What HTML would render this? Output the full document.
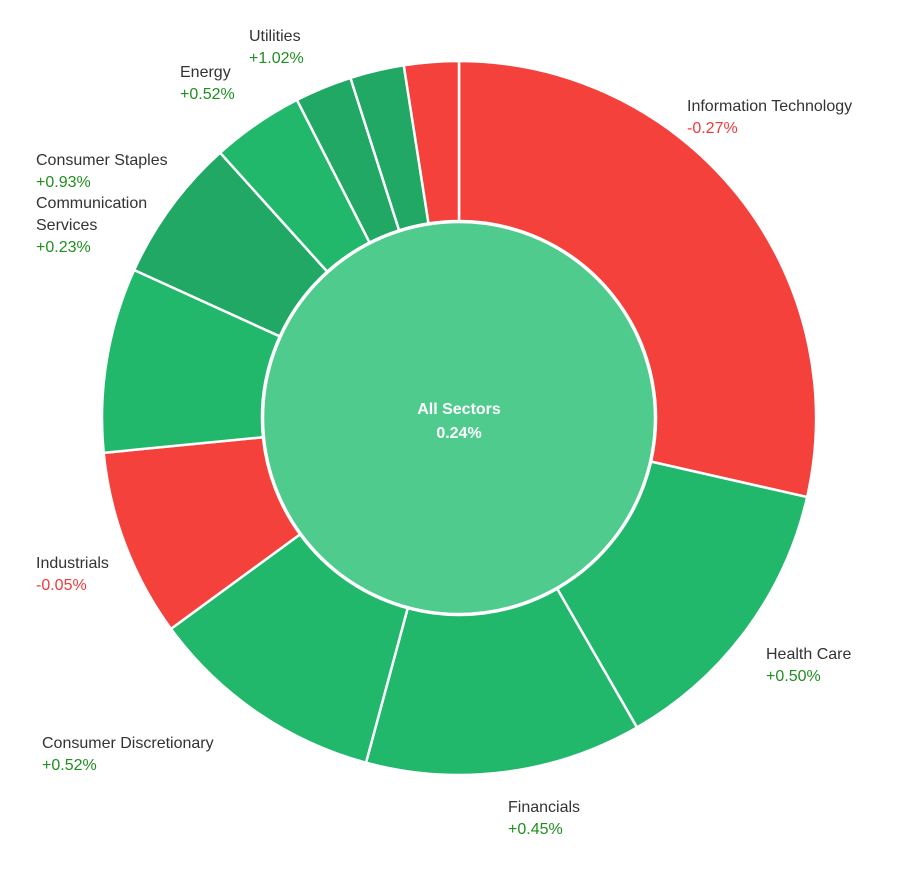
<!DOCTYPE html>
<html><head><meta charset="utf-8">
<style>
body{margin:0;background:#fff;width:903px;height:870px;overflow:hidden;font-family:"Liberation Sans",Arial,sans-serif;}
svg{position:absolute;left:0;top:0}
.lbl{position:absolute;font-size:16px;color:#333;line-height:22px;white-space:nowrap}
.pos{color:#1f8f1f}.neg{color:#f03a3a}
</style></head><body>
<svg id="chart" width="903" height="870"></svg>
<div class="lbl" style="left:687px;top:96px">Information Technology<br><span class="neg">-0.27%</span></div>
<div class="lbl" style="left:766px;top:644px">Health Care<br><span class="pos">+0.50%</span></div>
<div class="lbl" style="left:508px;top:797px">Financials<br><span class="pos">+0.45%</span></div>
<div class="lbl" style="left:42px;top:733px">Consumer Discretionary<br><span class="pos">+0.52%</span></div>
<div class="lbl" style="left:36px;top:553px">Industrials<br><span class="neg">-0.05%</span></div>
<div class="lbl" style="left:36px;top:193px">Communication<br>Services<br><span class="pos">+0.23%</span></div>
<div class="lbl" style="left:36px;top:150px">Consumer Staples<br><span class="pos">+0.93%</span></div>
<div class="lbl" style="left:180px;top:62px">Energy<br><span class="pos">+0.52%</span></div>
<div class="lbl" style="left:249px;top:26px">Utilities<br><span class="pos">+1.02%</span></div>
<script>
const sectors=["Information Technology","Health Care","Financials","Consumer Discretionary","Industrials","Communication Services","Consumer Staples","Energy","Utilities","Real Estate","Materials"];
const weights=[102.8,47.3,45,38.7,30.6,30.1,23.5,15,9.3,8.8,8.9];
const changes=[-0.27,0.50,0.45,0.52,-0.05,0.23,0.93,0.52,1.02,0.30,-0.10];
const shades=[0,0,0,0,0,0,1,0,1,1,0];
const total="0.24%";
const svg=document.getElementById('chart');
const NS="http://www.w3.org/2000/svg";
const cx=459,cy=418,R=357,r0=197;
const sum=weights.reduce((a,b)=>a+b,0);
function pt(rad,a){return [cx+rad*Math.sin(a),cy-rad*Math.cos(a)];}
let acc=0;
weights.forEach((w,i)=>{
  const a0=acc/sum*2*Math.PI;acc+=w;const a1=acc/sum*2*Math.PI;
  const [x0,y0]=pt(R,a0),[x1,y1]=pt(R,a1),[x2,y2]=pt(r0,a1),[x3,y3]=pt(r0,a0);
  const lg=(a1-a0)>Math.PI?1:0;
  const p=document.createElementNS(NS,'path');
  p.setAttribute('d',`M${x0},${y0}A${R},${R} 0 ${lg} 1 ${x1},${y1}L${x2},${y2}A${r0},${r0} 0 ${lg} 0 ${x3},${y3}Z`);
  p.setAttribute('fill',changes[i]<0?'#f4413c':(shades[i]?'#21a864':'#22b86c'));
  p.setAttribute('stroke','#fff');p.setAttribute('stroke-width','2.5');
  
  
  svg.appendChild(p);
});
const c=document.createElementNS(NS,'circle');
c.setAttribute('cx',cx);c.setAttribute('cy',cy);c.setAttribute('r',r0-1);
c.setAttribute('fill','#4fcb8d');c.setAttribute('stroke','#fff');c.setAttribute('stroke-width','2.5');


svg.appendChild(c);
[["All Sectors",414],[total,438]].forEach((t,k)=>{
  const tx=document.createElementNS(NS,'text');
  tx.setAttribute('x',cx);tx.setAttribute('y',t[1]);tx.setAttribute('text-anchor','middle');
  tx.setAttribute('fill','#fff');tx.setAttribute('font-size','16');tx.setAttribute('font-weight','bold');
  tx.setAttribute('font-family','Liberation Sans, Arial, sans-serif');
  
  
  tx.textContent=t[0];svg.appendChild(tx);
});
</script>
</body></html>
